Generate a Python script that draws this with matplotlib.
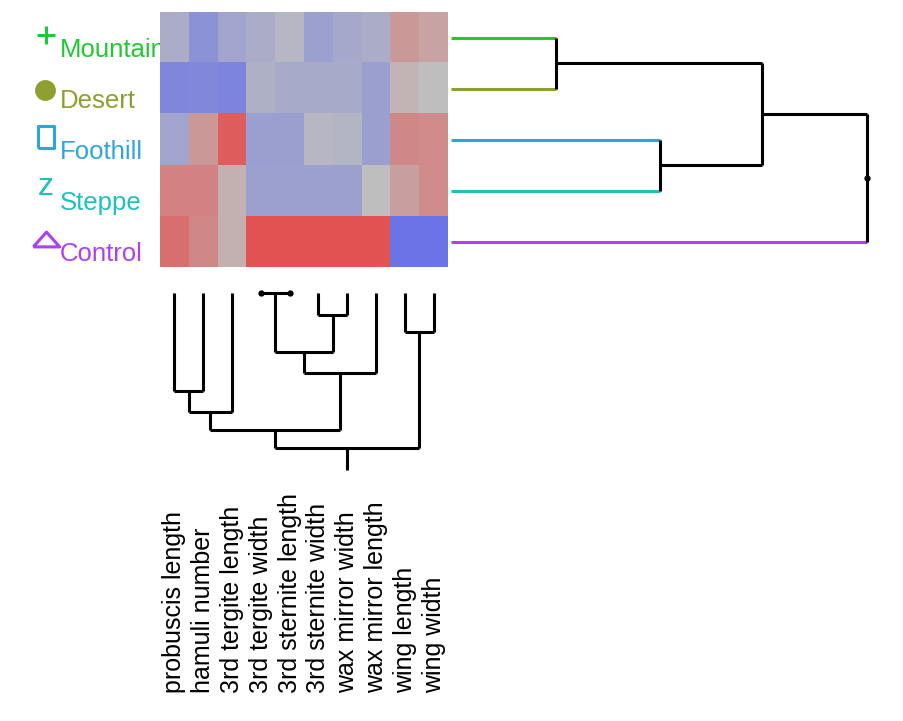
#!/usr/bin/env python3
"""
クラスタ・ヒートマップ（行・列デンドログラム付き）の再現
"""

import matplotlib
matplotlib.use('Agg')
import matplotlib.pyplot as plt
import matplotlib.transforms as mtransforms
from matplotlib.colors import LinearSegmentedColormap
import numpy as np

plt.rcParams['font.family'] = ['Liberation Sans', 'DejaVu Sans']

# 行（グループ）
groups = ['Mountain', 'Desert', 'Foothill', 'Steppe', 'Control']
group_colors = ['#22c832', '#8f9f2f', '#2fa5dc', '#1fbfbf', '#ad40f0']

# 列（形質）
traits = ['probuscis length', 'hamuli number', '3rd tergite length',
          '3rd tergite width', '3rd sternite length', '3rd sternite width',
          'wax mirror width', 'wax mirror length', 'wing length', 'wing width']

# 標準化した値（-1 = 青, 0 = 灰, 1 = 赤）
values = np.array([
    [-0.25, -0.60, -0.35, -0.25, -0.10, -0.40, -0.30, -0.25, 0.35, 0.25],
    [-0.75, -0.72, -0.78, -0.20, -0.27, -0.28, -0.27, -0.42, 0.10, 0.00],
    [-0.35, 0.35, 0.90, -0.42, -0.42, -0.10, -0.13, -0.42, 0.50, 0.48],
    [0.55, 0.55, 0.12, -0.40, -0.40, -0.40, -0.40, 0.00, 0.30, 0.48],
    [0.72, 0.50, 0.12, 1.00, 1.00, 1.00, 1.00, 1.00, -1.00, -1.00],
])

# 列デンドログラム（scipy 形式: 子a, 子b, 高さ）
col_merges = [
    (3, 4, 0.00),
    (5, 6, 0.22),
    (8, 9, 0.39),
    (10, 11, 0.59),
    (13, 7, 0.80),
    (0, 1, 0.98),
    (15, 2, 1.19),
    (16, 14, 1.37),
    (17, 12, 1.55),
]
col_stem = 0.22

# 行デンドログラム
row_merges = [
    (0, 1, 1.05),
    (2, 3, 2.09),
    (5, 6, 3.11),
    (7, 4, 4.16),
]
row_stem = 0.0

W, H = 904, 721
fig = plt.figure(figsize=(W / 100, H / 100), dpi=100)


def px_axes(x0, y0, x1, y1):
    return fig.add_axes([x0 / W, 1 - y1 / H, (x1 - x0) / W, (y1 - y0) / H])


def draw_dendro(ax, merges, n, orient, leaf_colors=None, stem=0.0, lw=2.2):
    """デンドログラムを描く（orient='top' は縦、'right' は横）"""
    pos = list(range(n))
    hgt = [0.0] * n

    def seg(p0, h0, p1, h1, color):
        if orient == 'top':
            xs, ys = [p0, p1], [h0, h1]
        else:
            xs, ys = [h0, h1], [p0, p1]
        if p0 == p1 and h0 == h1:
            ax.plot(xs[:1], ys[:1], marker='o', ms=3.5, color=color,
                    clip_on=False, zorder=3)
        else:
            ax.plot(xs, ys, color=color, lw=lw, solid_capstyle='butt',
                    clip_on=False, zorder=2)

    for a, b, h in merges:
        for c in (a, b):
            col = leaf_colors[c] if (leaf_colors is not None and c < n) else 'black'
            seg(pos[c], hgt[c], pos[c], h, col)
        seg(pos[a], h, pos[b], h, 'black')
        pos.append((pos[a] + pos[b]) / 2)
        hgt.append(h)
    seg(pos[-1], hgt[-1], pos[-1], hgt[-1] + stem, 'black')


# ヒートマップ
cmap = LinearSegmentedColormap.from_list('bgr', ['#6a74e6', '#bfbfbf', '#e25252'])
ax_heat = px_axes(160, 12, 448, 267)
ax_heat.imshow(values, cmap=cmap, vmin=-1, vmax=1, aspect='auto',
               interpolation='nearest')
ax_heat.axis('off')
ax_heat.set_zorder(2)

# 行ラベル（凡例マーカー付き）
ax_lab = px_axes(0, 12, 160, 267)
ax_lab.set_xlim(0, 160)
ax_lab.set_ylim(len(groups) - 0.5, -0.5)
ax_lab.axis('off')
ax_lab.set_zorder(1)

rect = [(-0.35, -0.5), (0.35, -0.5), (0.35, 0.5), (-0.35, 0.5), (-0.35, -0.5)]
tri = [(-0.5, -0.28), (0.5, -0.28), (0.0, 0.28), (-0.5, -0.28)]
markers = ['+', 'o', rect, None, tri]
msizes = [13, 14, 16, None, 19]
for i, (g, c) in enumerate(zip(groups, group_colors)):
    m = markers[i]
    if m is None:
        ax_lab.text(46, i - 0.06, 'z', color=c, fontsize=23, ha='center',
                    va='center')
    elif m == 'o':
        ax_lab.plot([45], [i + 0.02], marker='o', ms=msizes[i], color=c,
                    mec=c, clip_on=False)
    else:
        ax_lab.plot([46], [i - 0.05], marker=m, ms=msizes[i], color=c,
                    mfc='none', mec=c, mew=2.2, clip_on=False)
    ax_lab.text(60, i + 0.39, g, color=c, fontsize=18.5, ha='left',
                va='baseline')

# 行デンドログラム
ax_row = px_axes(451, 12, 867, 267)
ax_row.set_xlim(0, max(h for _, _, h in row_merges))
ax_row.set_ylim(len(groups) - 0.5, -0.5)
ax_row.axis('off')
draw_dendro(ax_row, row_merges, len(groups), 'right',
            leaf_colors=group_colors, stem=row_stem)

# 列デンドログラム
ax_col = px_axes(160, 293, 448, 470)
ax_col.set_xlim(-0.5, len(traits) - 0.5)
ax_col.set_ylim(max(h for _, _, h in col_merges) + col_stem, 0)
ax_col.axis('off')
draw_dendro(ax_col, col_merges, len(traits), 'top', stem=col_stem)

# 列ラベル
trans = mtransforms.blended_transform_factory(ax_col.transData, fig.transFigure)
for j, t in enumerate(traits):
    ax_col.text(j, 1 - 693 / H, t, transform=trans, rotation=90,
                ha='center', va='bottom', fontsize=18, clip_on=False)

fig.savefig('out.png', dpi=100)
plt.close(fig)
